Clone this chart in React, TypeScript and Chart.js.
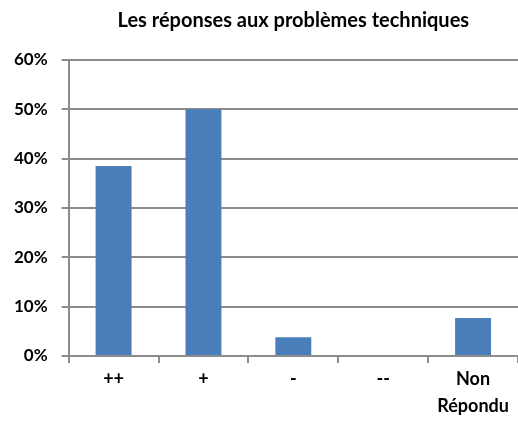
import React, { useEffect, useRef } from "react";
import { Chart, registerables } from "chart.js";

Chart.register(...registerables);

const categories: (string | string[])[] = ["++", "+", "-", "--", ["Non", "Répondu"]];
const values: number[] = [0.385, 0.5, 0.038, 0, 0.077];
const titleText = "Les réponses aux problèmes techniques";
const yMin = 0;
const yMax = 0.6;
const yStep = 0.1;

export default function App() {
  const ref = useRef<HTMLCanvasElement | null>(null);
  useEffect(() => {
    if (!ref.current) return;
    const font = { family: "Lato", weight: "bold" as const, size: 17 };
    const chart = new Chart(ref.current, {
      type: "bar",
      data: {
        labels: categories,
        datasets: [
          {
            data: values,
            backgroundColor: "#4a7ebb",
            borderWidth: 0,
            barPercentage: 0.4,
            categoryPercentage: 1,
          },
        ],
      },
      options: {
        animation: false,
        responsive: false,
        maintainAspectRatio: false,
        layout: { padding: { left: 0, right: 0, top: 0, bottom: 0 } },
        plugins: {
          legend: { display: false },
          tooltip: { enabled: false },
          title: {
            display: true,
            text: titleText,
            fullSize: false,
            color: "#000",
            font: { ...font, size: 20 },
            padding: { top: 9, bottom: 27 },
          },
        },
        scales: {
          x: {
            offset: true,
            grid: {
              offset: true,
              drawOnChartArea: false,
              drawTicks: true,
              tickLength: 7,
              color: "#8c8c8c",
              lineWidth: 2,
            },
            border: { display: true, color: "#8c8c8c", width: 2 },
            ticks: { color: "#000", font: { ...font, size: 18, lineHeight: 1.5 }, padding: 3, maxRotation: 0 },
          },
          y: {
            min: yMin,
            max: yMax,
            grid: { color: "#8c8c8c", lineWidth: 2, tickLength: 7, drawTicks: true },
            border: { display: true, color: "#8c8c8c", width: 2 },
            ticks: {
              stepSize: yStep,
              color: "#000",
              font,
              padding: 14,
              callback: (v: any) => Math.round(Number(v) * 100) + "%",
            },
          },
        },
      },
    });
    return () => chart.destroy();
  }, []);
  return (
    <div style={{ position: "fixed", left: 0, top: 0, width: 518, height: 423, background: "#fff" }}>
      <canvas ref={ref} width={518} height={423} style={{ display: "block" }} />
    </div>
  );
}
